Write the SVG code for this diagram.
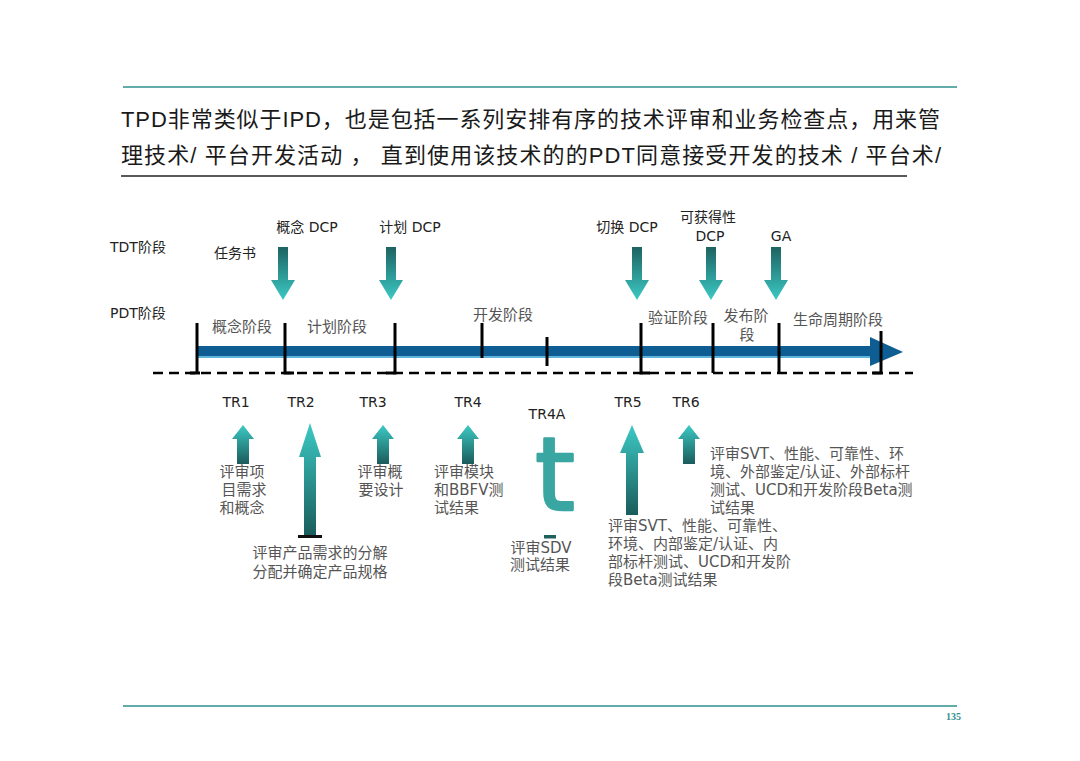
<svg xmlns="http://www.w3.org/2000/svg" width="1080" height="761" viewBox="0 0 1080 761">
<defs>
<linearGradient id="gDown" x1="0" y1="0" x2="0" y2="1">
<stop offset="0" stop-color="#1d6362"/>
<stop offset="1" stop-color="#3cc9c4"/>
</linearGradient>
<linearGradient id="gUp" x1="0" y1="0" x2="0" y2="1">
<stop offset="0" stop-color="#3cc9c4"/>
<stop offset="1" stop-color="#1a5c5b"/>
</linearGradient>
<style>
.rule{stroke:#2f8f8c;stroke-width:1.6;fill:none}
.title{font-family:"Liberation Sans","Noto Sans CJK SC",sans-serif;font-size:22px;fill:#1a1a1a}
.lab{font-family:"DejaVu Sans","Noto Sans CJK SC",sans-serif;font-size:14px;fill:#222}
.ph{font-family:"Noto Sans CJK SC",sans-serif;font-size:15px;fill:#555}
.desc{font-family:"DejaVu Sans","Noto Sans CJK SC",sans-serif;font-size:15px;fill:#555}
.tick{stroke:#000;stroke-width:3;fill:none}
.dash{stroke:#000;stroke-width:2.4;stroke-dasharray:10 6;fill:none}
.dn{fill:url(#gDown)}
.up{fill:url(#gUp)}
</style>
</defs>
<rect width="1080" height="761" fill="#fff"/>
<g id="frame">
<line class="rule" x1="123" y1="87" x2="957" y2="87"/>
<line class="rule" x1="123" y1="706" x2="957" y2="706"/>
<text x="961" y="720" text-anchor="end" font-family="Liberation Serif,serif" font-size="10" font-weight="bold" fill="#2f8f8c">135</text>
</g>
<g id="title">
<text class="title" x="121" y="127" textLength="819" lengthAdjust="spacing">TPD非常类似于IPD，也是包括一系列安排有序的技术评审和业务检查点，用来管</text>
<text class="title" x="121" y="163" textLength="820" lengthAdjust="spacing">理技术/ 平台开发活动 ， 直到使用该技术的的PDT同意接受开发的技术 / 平台术/</text>
<line x1="121" y1="176" x2="907" y2="176" stroke="#222" stroke-width="1.4"/>
</g>
<g id="row-labels">
<text class="lab" x="110" y="252">TDT阶段</text>
<text class="lab" x="110" y="318">PDT阶段</text>
</g>
<g id="timeline">
<rect x="197" y="346" width="676" height="12" fill="#0e5e93"/>
<rect x="197" y="356" width="676" height="2" fill="#5fb4dd"/>
<polygon points="870,337 903,352 870,366" fill="#0e5e93"/>
<line class="dash" x1="153" y1="373" x2="913" y2="373"/>
<path class="tick" d="M197,323 V373 M190,373 H200"/>
<path class="tick" d="M285,323 V373 H294"/>
<path class="tick" d="M395,323 V373 H386"/>
<path class="tick" d="M482,323 V358"/>
<path class="tick" d="M547,337 V366"/>
<path class="tick" d="M641,323 V373 H650"/>
<path class="tick" d="M713,323 V373"/>
<path class="tick" d="M779,323 V373"/>
<path class="tick" d="M881,331 V373 H872"/>
</g>
<g id="phases">
<text class="ph" x="242" y="332" text-anchor="middle">概念阶段</text>
<text class="ph" x="337" y="332" text-anchor="middle">计划阶段</text>
<text class="ph" x="503" y="320" text-anchor="middle">开发阶段</text>
<text class="ph" x="678" y="323" text-anchor="middle">验证阶段</text>
<text class="ph" x="746" y="321" text-anchor="middle" font-size="14">发布阶</text>
<text class="ph" x="747" y="340" text-anchor="middle" font-size="14">段</text>
<text class="ph" x="838" y="325" text-anchor="middle">生命周期阶段</text>
</g>
<g id="dcp-concept">
<text class="lab" x="307" y="232" text-anchor="middle">概念 DCP</text>
<text class="lab" x="235" y="258" text-anchor="middle">任务书</text>
<path class="dn" d="M278,247 H288 V280 H295 L283,300 L271,280 H278 Z"/>
</g>
<g id="dcp-plan">
<text class="lab" x="410" y="232" text-anchor="middle">计划 DCP</text>
<path class="dn" d="M386,247 H396 V280 H403 L391,300 L379,280 H386 Z"/>
</g>
<g id="dcp-switch">
<text class="lab" x="627" y="232" text-anchor="middle">切换 DCP</text>
<path class="dn" d="M632,247 H642 V280 H649 L637,300 L625,280 H632 Z"/>
</g>
<g id="dcp-avail">
<text class="lab" x="708" y="222" text-anchor="middle">可获得性</text>
<text class="lab" x="710" y="241" text-anchor="middle">DCP</text>
<path class="dn" d="M706,247 H716 V280 H723 L711,300 L699,280 H706 Z"/>
</g>
<g id="dcp-ga">
<text class="lab" x="781" y="241" text-anchor="middle">GA</text>
<path class="dn" d="M771,247 H781 V280 H788 L776,300 L764,280 H771 Z"/>
</g>
<g id="tr1">
<text class="lab" x="236" y="407" text-anchor="middle">TR1</text>
<path class="up" d="M243,425 L254,439 H249 V464 H237 V439 H232 Z"/>
<text class="desc" x="242" y="477" text-anchor="middle">评审项</text>
<text class="desc" x="244" y="495" text-anchor="middle">目需求</text>
<text class="desc" x="242" y="513" text-anchor="middle">和概念</text>
</g>
<g id="tr2">
<text class="lab" x="301" y="407" text-anchor="middle">TR2</text>
<path class="up" d="M310,423 L321,457 H316 V536 H304 V457 H299 Z"/>
<rect x="298" y="535" width="24" height="3" fill="#111"/>
<text class="desc" x="320" y="558" text-anchor="middle">评审产品需求的分解</text>
<text class="desc" x="320" y="577" text-anchor="middle">分配并确定产品规格</text>
</g>
<g id="tr3">
<text class="lab" x="373" y="407" text-anchor="middle">TR3</text>
<path class="up" d="M383,425 L394,439 H389 V464 H377 V439 H372 Z"/>
<text class="desc" x="380" y="477" text-anchor="middle">评审概</text>
<text class="desc" x="381" y="495" text-anchor="middle">要设计</text>
</g>
<g id="tr4">
<text class="lab" x="468" y="407" text-anchor="middle">TR4</text>
<path class="up" d="M468,425 L479,439 H474 V464 H462 V439 H457 Z"/>
<text class="desc" x="434" y="477">评审模块</text>
<text class="desc" x="434" y="495">和BBFV测</text>
<text class="desc" x="434" y="513">试结果</text>
</g>
<g id="tr4a">
<text class="lab" x="547" y="419" text-anchor="middle">TR4A</text>
<text x="555" y="510" text-anchor="middle" font-family="DejaVu Sans,sans-serif" font-size="102" fill="#3aa6a2" stroke="#3aa6a2" stroke-width="2.5" stroke-linejoin="round">t</text>
<rect x="544" y="535" width="12" height="3.5" fill="#1f5f5c"/>
<text class="desc" x="541" y="553" text-anchor="middle">评审SDV</text>
<text class="desc" x="540" y="570" text-anchor="middle">测试结果</text>
</g>
<g id="tr5">
<text class="lab" x="628" y="407" text-anchor="middle">TR5</text>
<path class="up" d="M632,425 L644,453 H638 V515 H626 V453 H620 Z"/>
<text class="desc" x="608" y="531">评审SVT、性能、可靠性、</text>
<text class="desc" x="608" y="549">环境、内部鉴定/认证、内</text>
<text class="desc" x="608" y="567">部标杆测试、UCD和开发阶</text>
<text class="desc" x="608" y="585">段Beta测试结果</text>
</g>
<g id="tr6">
<text class="lab" x="686" y="407" text-anchor="middle">TR6</text>
<path class="up" d="M689,425 L700,439 H695 V464 H683 V439 H678 Z"/>
<text class="desc" x="710" y="459">评审SVT、性能、可靠性、环</text>
<text class="desc" x="710" y="477">境、外部鉴定/认证、外部标杆</text>
<text class="desc" x="710" y="495">测试、UCD和开发阶段Beta测</text>
<text class="desc" x="710" y="513">试结果</text>
</g>
</svg>
